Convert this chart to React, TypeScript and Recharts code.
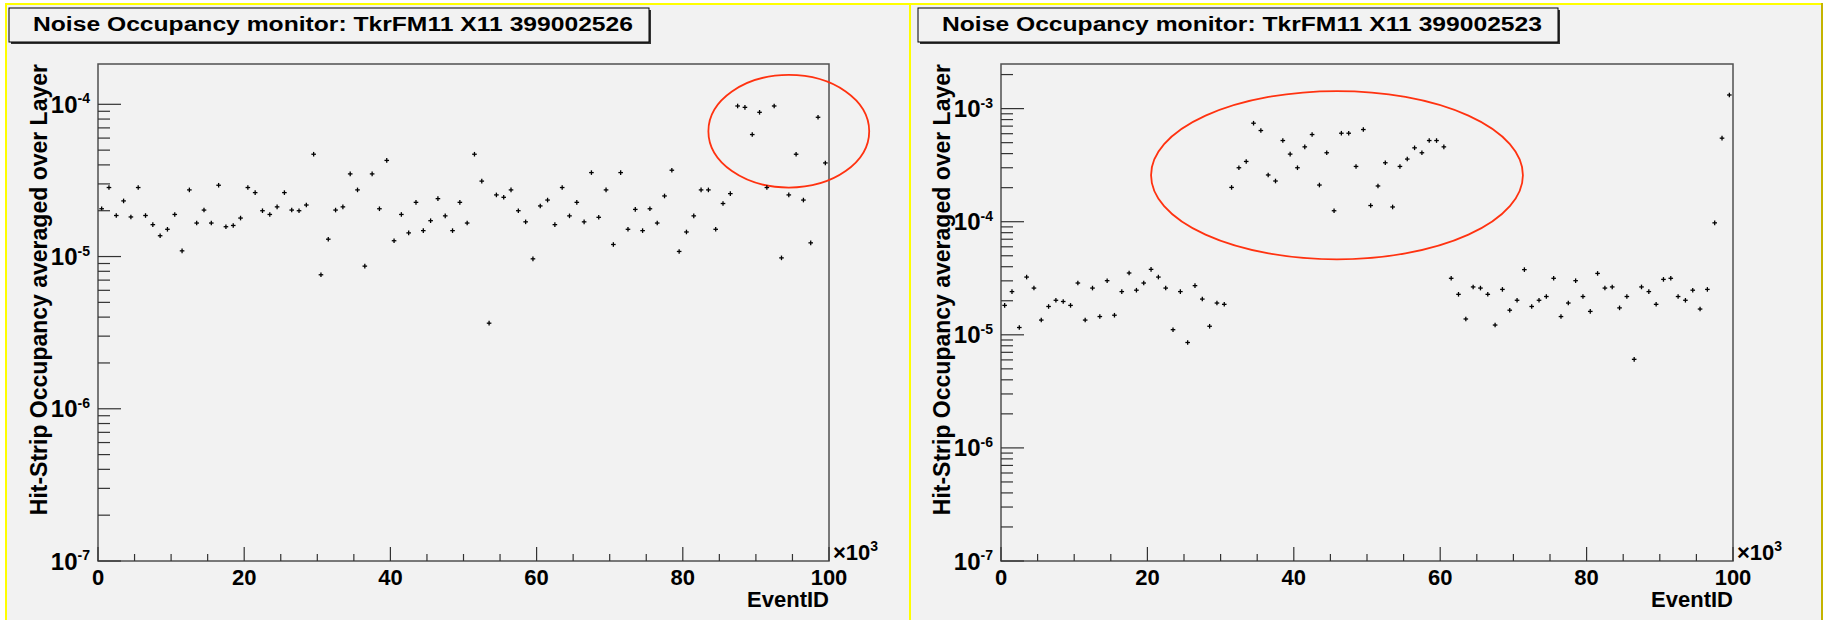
import React from 'react';
import { ScatterChart, Scatter, XAxis, YAxis, ReferenceArea } from 'recharts';

// Event ID bin centres (x 10^3)
const EVENT_K = [
  0.5, 1.5, 2.5, 3.5, 4.5, 5.5, 6.5, 7.5, 8.5, 9.5,
  10.5, 11.5, 12.5, 13.5, 14.5, 15.5, 16.5, 17.5, 18.5, 19.5,
  20.5, 21.5, 22.5, 23.5, 24.5, 25.5, 26.5, 27.5, 28.5, 29.5,
  30.5, 31.5, 32.5, 33.5, 34.5, 35.5, 36.5, 37.5, 38.5, 39.5,
  40.5, 41.5, 42.5, 43.5, 44.5, 45.5, 46.5, 47.5, 48.5, 49.5,
  50.5, 51.5, 52.5, 53.5, 54.5, 55.5, 56.5, 57.5, 58.5, 59.5,
  60.5, 61.5, 62.5, 63.5, 64.5, 65.5, 66.5, 67.5, 68.5, 69.5,
  70.5, 71.5, 72.5, 73.5, 74.5, 75.5, 76.5, 77.5, 78.5, 79.5,
  80.5, 81.5, 82.5, 83.5, 84.5, 85.5, 86.5, 87.5, 88.5, 89.5,
  90.5, 91.5, 92.5, 93.5, 94.5, 95.5, 96.5, 97.5, 98.5, 99.5,
];

// Run 399002526
const OCC_526 = [
  2.06e-5, 2.84e-5, 1.86e-5, 2.32e-5, 1.82e-5, 2.84e-5, 1.86e-5, 1.62e-5, 1.37e-5, 1.51e-5,
  1.89e-5, 1.09e-5, 2.74e-5, 1.66e-5, 2.02e-5, 1.66e-5, 2.94e-5, 1.57e-5, 1.60e-5, 1.79e-5,
  2.84e-5, 2.63e-5, 2.00e-5, 1.89e-5, 2.12e-5, 2.63e-5, 2.02e-5, 2.00e-5, 2.18e-5, 4.70e-5,
  7.59e-6, 1.30e-5, 2.02e-5, 2.12e-5, 3.49e-5, 2.74e-5, 8.65e-6, 3.49e-5, 2.06e-5, 4.28e-5,
  1.27e-5, 1.89e-5, 1.43e-5, 2.27e-5, 1.48e-5, 1.72e-5, 2.40e-5, 1.85e-5, 1.48e-5, 2.27e-5,
  1.66e-5, 4.70e-5, 3.13e-5, 3.65e-6, 2.54e-5, 2.45e-5, 2.74e-5, 2.00e-5, 1.69e-5, 9.66e-6,
  2.15e-5, 2.35e-5, 1.62e-5, 2.84e-5, 1.85e-5, 2.27e-5, 1.69e-5, 3.56e-5, 1.81e-5, 2.74e-5,
  1.20e-5, 3.56e-5, 1.51e-5, 2.04e-5, 1.48e-5, 2.06e-5, 1.66e-5, 2.50e-5, 3.69e-5, 1.08e-5,
  1.45e-5, 1.85e-5, 2.74e-5, 2.74e-5, 1.51e-5, 2.23e-5, 2.59e-5, 9.75e-5, 9.55e-5, 6.33e-5,
  8.86e-5, 2.84e-5, 9.75e-5, 9.80e-6, 2.54e-5, 4.70e-5, 2.35e-5, 1.23e-5, 8.22e-5, 4.12e-5,
];

// Run 399002523
const OCC_523 = [
  1.82e-5, 2.41e-5, 1.16e-5, 3.24e-5, 2.59e-5, 1.35e-5, 1.78e-5, 2.02e-5, 1.97e-5, 1.82e-5,
  2.87e-5, 1.35e-5, 2.59e-5, 1.45e-5, 3.01e-5, 1.49e-5, 2.41e-5, 3.52e-5, 2.48e-5, 2.87e-5,
  3.79e-5, 3.24e-5, 2.59e-5, 1.11e-5, 2.41e-5, 8.55e-6, 2.72e-5, 2.07e-5, 1.19e-5, 1.91e-5,
  1.86e-5, 2.01e-4, 3.00e-4, 3.41e-4, 7.43e-4, 6.40e-4, 2.59e-4, 2.29e-4, 5.22e-4, 3.96e-4,
  3.00e-4, 4.59e-4, 5.90e-4, 2.11e-4, 4.07e-4, 1.25e-4, 6.06e-4, 6.06e-4, 3.08e-4, 6.53e-4,
  1.39e-4, 2.07e-4, 3.32e-4, 1.35e-4, 3.08e-4, 3.58e-4, 4.50e-4, 4.07e-4, 5.22e-4, 5.22e-4,
  4.59e-4, 3.16e-5, 2.28e-5, 1.38e-5, 2.65e-5, 2.59e-5, 2.28e-5, 1.22e-5, 2.52e-5, 1.65e-5,
  2.02e-5, 3.77e-5, 1.78e-5, 2.02e-5, 2.18e-5, 3.16e-5, 1.45e-5, 1.91e-5, 3.01e-5, 2.18e-5,
  1.61e-5, 3.49e-5, 2.59e-5, 2.65e-5, 1.73e-5, 2.18e-5, 6.07e-6, 2.65e-5, 2.41e-5, 1.86e-5,
  3.09e-5, 3.16e-5, 2.18e-5, 2.02e-5, 2.48e-5, 1.69e-5, 2.52e-5, 9.77e-5, 5.48e-4, 1.32e-3,
];

const TITLE_526 = 'Noise Occupancy monitor: TkrFM11 X11 399002526';
const TITLE_523 = 'Noise Occupancy monitor: TkrFM11 X11 399002523';
const Y_TITLE = 'Hit-Strip Occupancy averaged over Layer';
const X_TITLE = 'EventID';

const X_TICKS = [0, 5, 10, 15, 20, 25, 30, 35, 40, 45, 50, 55, 60, 65, 70, 75, 80, 85, 90, 95, 100];
const X_LABELLED = [0, 20, 40, 60, 80, 100];

const Y_TICKS_526 = [
  1e-7, 2e-7, 3e-7, 4e-7, 5e-7, 6e-7, 7e-7, 8e-7, 9e-7,
  1e-6, 2e-6, 3e-6, 4e-6, 5e-6, 6e-6, 7e-6, 8e-6, 9e-6,
  1e-5, 2e-5, 3e-5, 4e-5, 5e-5, 6e-5, 7e-5, 8e-5, 9e-5,
  1e-4,
];
const Y_TICKS_523 = [
  1e-7, 2e-7, 3e-7, 4e-7, 5e-7, 6e-7, 7e-7, 8e-7, 9e-7,
  1e-6, 2e-6, 3e-6, 4e-6, 5e-6, 6e-6, 7e-6, 8e-6, 9e-6,
  1e-5, 2e-5, 3e-5, 4e-5, 5e-5, 6e-5, 7e-5, 8e-5, 9e-5,
  1e-4, 2e-4, 3e-4, 4e-4, 5e-4, 6e-4, 7e-4, 8e-4, 9e-4,
  1e-3, 2e-3,
];
const Y_DOMAIN_526 = [1e-7, 1.84e-4];
const Y_DOMAIN_523 = [1e-7, 2.48e-3];

// highlighted regions (data coordinates)
const RING_526 = { x1: 83.5, x2: 105.5, y1: 2.84e-5, y2: 1.56e-4 };
const RING_523 = { x1: 20.5, x2: 71.3, y1: 4.65e-5, y2: 1.43e-3 };

const FONT = '"Liberation Sans", Arial, Helvetica, sans-serif';
const BG = '#f2f2f2';

const isDecade = (v: number) => {
  const l = Math.log10(v);
  return Math.abs(l - Math.round(l)) < 1e-6;
};

function YTick(props: any) {
  const { x, y, payload } = props;
  const v = payload.value;
  const major = isDecade(v);
  const exp = Math.round(Math.log10(v));
  return (
    <g>
      <line x1={x} x2={x + (major ? 23 : 12)} y1={y} y2={y} stroke="#333" strokeWidth={1.2} />
      {major && (
        <text x={x - 8} y={y} textAnchor="end" fontFamily={FONT} fontWeight="bold" fill="#000">
          <tspan fontSize={24} dy={8.5}>10</tspan>
          <tspan fontSize={14} dy={-9.5}>{String(exp)}</tspan>
        </text>
      )}
    </g>
  );
}

function XTick(props: any) {
  const { x, y, payload } = props;
  const v = payload.value;
  const major = X_LABELLED.includes(v);
  return (
    <g>
      <line x1={x} x2={x} y1={y} y2={y - (major ? 14 : 7)} stroke="#333" strokeWidth={1.2} />
      {major && (
        <text x={x} y={y + 24} textAnchor="middle" fontFamily={FONT} fontWeight="bold" fontSize={22} fill="#000">
          {v}
        </text>
      )}
    </g>
  );
}

function Cross(props: any) {
  const { cx, cy } = props;
  if (cx == null || cy == null) return null;
  const h = 2.3;
  return (
    <g>
      <line x1={cx - h} x2={cx + h} y1={cy} y2={cy} stroke="#000" strokeWidth={1.3} />
      <line x1={cx} x2={cx} y1={cy - h} y2={cy + h} stroke="#000" strokeWidth={1.3} />
    </g>
  );
}

function Frame(props: any) {
  const { x, y, width, height } = props;
  return <rect x={x} y={y} width={width} height={height} fill="none" stroke="#505050" strokeWidth={1.5} />;
}

function Ring(props: any) {
  const { x, y, width, height } = props;
  return (
    <ellipse
      cx={x + width / 2}
      cy={y + height / 2}
      rx={Math.abs(width) / 2}
      ry={Math.abs(height) / 2}
      fill="none"
      stroke="#ff3210"
      strokeWidth={1.8}
    />
  );
}

function YTitle(props: any) {
  const vb = props.viewBox || {};
  const cx = vb.x + vb.width - 59;
  const top = vb.y;
  return (
    <text
      x={cx}
      y={top}
      transform={`rotate(-90 ${cx} ${top})`}
      textAnchor="end"
      dominantBaseline="central"
      fontFamily={FONT}
      fontWeight="bold"
      fontSize={23}
      fill="#000"
    >
      {Y_TITLE}
    </text>
  );
}

function XTitle(props: any) {
  const vb = props.viewBox || {};
  const right = vb.x + vb.width;
  const bottom = vb.y;
  return (
    <g>
      <text x={right} y={bottom + 46} textAnchor="end" fontFamily={FONT} fontWeight="bold" fontSize={22} fill="#000">
        {X_TITLE}
      </text>
      <text x={right + 4} y={bottom - 1} fontFamily={FONT} fontWeight="bold" fill="#000">
        <tspan fontSize={22}>×10</tspan>
        <tspan fontSize={14} dy={-9}>3</tspan>
      </text>
    </g>
  );
}

type PanelProps = {
  left: number;
  width: number;
  plotLeft: number;
  plotRight: number;
  values: number[];
  yTicks: number[];
  yDomain: number[];
  ring: { x1: number; x2: number; y1: number; y2: number };
};

function Panel({ left, width, plotLeft, plotRight, values, yTicks, yDomain, ring }: PanelProps) {
  const data = EVENT_K.map((k, i) => ({ eventId: k, occupancy: values[i] }));
  const yAxisW = 60;
  return (
    <div style={{ position: 'absolute', left, top: 0, width, height: 620 }}>
      <ScatterChart
        width={width}
        height={620}
        margin={{ top: 64, left: plotLeft - yAxisW, right: width - plotRight, bottom: 29 }}
      >
        <XAxis
          dataKey="eventId"
          type="number"
          domain={[0, 100]}
          allowDataOverflow
          ticks={X_TICKS}
          interval={0}
          tickSize={0}
          tickMargin={0}
          axisLine={false}
          tick={<XTick />}
          height={30}
          label={{ content: <XTitle /> }}
        />
        <YAxis
          dataKey="occupancy"
          type="number"
          scale="log"
          domain={yDomain}
          allowDataOverflow
          ticks={yTicks}
          interval={0}
          tickSize={0}
          tickMargin={0}
          axisLine={false}
          tick={<YTick />}
          width={yAxisW}
          label={{ content: <YTitle /> }}
        />
        <ReferenceArea x1={0} x2={100} y1={yDomain[0]} y2={yDomain[1]} ifOverflow="visible" shape={<Frame />} />
        <Scatter data={data} isAnimationActive={false} shape={<Cross />} />
        <ReferenceArea x1={ring.x1} x2={ring.x2} y1={ring.y1} y2={ring.y2} ifOverflow="visible" shape={<Ring />} />
      </ScatterChart>
    </div>
  );
}

function TitleBox({ x, text }: { x: number; text: string }) {
  return (
    <g>
      <rect x={x + 2} y={10} width={640} height={34} fill="#333" />
      <rect x={x} y={8} width={640} height={34} fill={BG} stroke="#000" strokeWidth={1} />
      <text
        x={x + 24}
        y={31}
        fontFamily={FONT}
        fontWeight="bold"
        fontSize={20}
        fill="#000"
        textLength={600}
        lengthAdjust="spacingAndGlyphs"
      >
        {text}
      </text>
    </g>
  );
}

export default function App() {
  return (
    <div style={{ position: 'absolute', left: 0, top: 0, width: 1825, height: 620, background: '#fff', overflow: 'hidden' }}>
      <svg width={1825} height={620} style={{ position: 'absolute', left: 0, top: 0 }}>
        <rect x={5} y={3} width={904} height={617} fill={BG} />
        <rect x={909} y={3} width={914} height={617} fill={BG} />
        <rect x={5} y={3} width={904} height={2} fill="#ffff00" />
        <rect x={5} y={3} width={2} height={617} fill="#ffff00" />
        <rect x={909} y={3} width={914} height={2} fill="#ffff00" />
        <rect x={909} y={3} width={2} height={617} fill="#ffff00" />
        <rect x={1821} y={3} width={2} height={617} fill="#c4b400" />
      </svg>
      <svg width={1825} height={620} style={{ position: 'absolute', left: 0, top: 0 }}>
        <TitleBox x={9} text={TITLE_526} />
        <TitleBox x={918} text={TITLE_523} />
      </svg>
      <Panel
        left={0}
        width={910}
        plotLeft={98}
        plotRight={829}
        values={OCC_526}
        yTicks={Y_TICKS_526}
        yDomain={Y_DOMAIN_526}
        ring={RING_526}
      />
      <Panel
        left={910}
        width={915}
        plotLeft={91}
        plotRight={823}
        values={OCC_523}
        yTicks={Y_TICKS_523}
        yDomain={Y_DOMAIN_523}
        ring={RING_523}
      />
    </div>
  );
}
